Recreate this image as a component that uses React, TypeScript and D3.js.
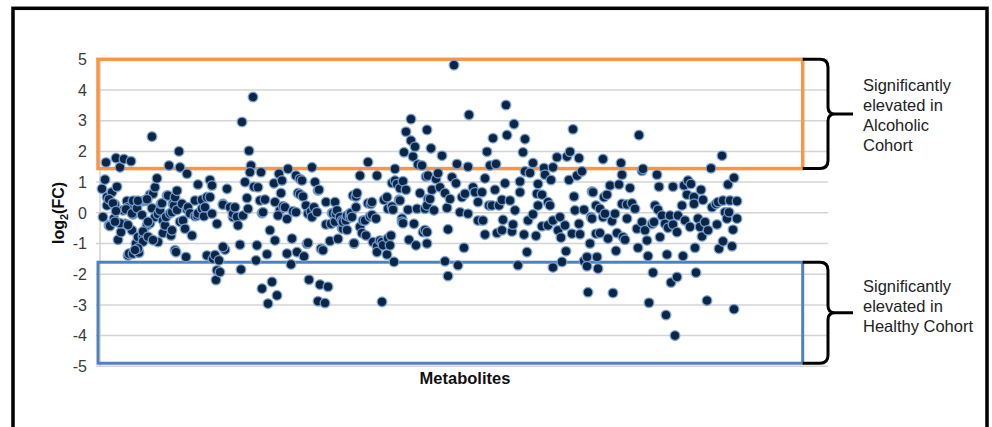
import React from "react";
import * as d3 from "d3";

// Metabolite order index and log2(FC) values
const points: [number, number][] = [
  [2,0.78],[3,-0.14],[5,1.08],[6,1.64],[7,0.51],[7,0.24],[9,-0.41],[10,-0.43],[12,0.67],[14,-0.19],[15,0.27],[16,1.78],[17,0.85],[18,-0.88],[20,1.48],[21,-0.63],[23,0.08],[24,1.75],[25,-0.36],[27,0.38],[28,0.18],[28,-1.39],[29,-1.33],[31,1.68],[32,-0.57],[33,-0.05],[33,-1.33],[35,0.38],[36,-1.0],[38,-0.79],[38,-1.28],[39,-1.3],[43,0.38],[43,-0.77],[45,0.4],[47,0.4],[47,-0.41],[50,0.59],[50,-0.34],[52,2.48],[53,0.62],[55,0.83],[55,-0.14],[57,1.12],[58,-0.95],
  [9,0.44],[13,0.31],[16,0.06],[20,-0.34],[15,-0.29],[26,0.11],[28,-0.4],[32,-0.02],[33,0.39],[37,0.15],[38,0.39],[42,-0.07],[43,-0.61],[43,-0.94],[38,-1.16],[35,-1.21],[47,0.44],[48,-0.29],[48,-0.78],[52,0.15],[53,-0.89],[58,-0.04],
  [60,0.08],[61,0.29],[62,0.31],[63,-0.66],[63,-0.25],[65,-0.41],[66,-0.14],[67,0.56],[68,0.56],[69,1.54],[70,-0.02],[71,-0.74],[72,-0.57],[72,0.02],[73,0.29],[74,0.24],[75,0.51],[75,-1.22],[76,-1.28],[77,0.72],[77,0.09],[79,2.0],[80,1.48],[80,-0.29],[82,0.29],[83,-0.25],[85,-0.52],[86,-1.44],[87,1.27],[87,0.11],[88,0.18],[90,-0.02],[92,-0.74],[95,0.4],[95,-0.11],[97,-0.09],[98,0.92],[98,-0.02],[102,0.13],[102,0.42],[104,-0.11],[105,0.18],[107,0.51],[107,-1.39],[110,1.07],[110,0.51],[112,0.89],[112,-0.03],[113,-1.5],[116,-2.19],[117,-0.36],[115,-1.38],[119,-1.55],[117,-1.87],[120,-1.93],
  [123,0.29],[123,0.26],[125,-1.2],[127,0.78],[123,-1.11],[130,0.18],[133,-0.14],[133,-0.03],[135,0.18],[137,-0.14],[138,-0.41],[140,-1.04],[141,-1.85],[142,2.96],[143,-0.09],[145,1.0],[147,0.48],[148,0.13],[149,2.02],[151,1.54],[150,1.32],[153,3.77],[154,0.85],[156,-1.55],[157,-1.06],[158,0.83],[160,0.4],[161,1.32],[162,-0.01],[162,-2.47],[163,0.02],[165,0.43],[168,-2.96],[170,-0.57],[167,-1.35],[172,-2.25],[174,0.96],[175,0.35],[175,-0.9],[177,-2.69],[179,1.27],[180,0.08],
  [181,0.64],[182,1.05],[178,-0.09],[183,0.21],[185,0.18],[187,-0.2],[187,-1.33],[188,1.43],[191,-1.68],[192,-0.84],[193,0.05],[196,0.02],[197,-1.28],[196,1.21],[198,0.64],[200,1.1],[200,0.6],[202,1.05],[203,0.53],[204,-1.42],[206,0.24],[207,-1.01],[208,-0.98],[208,-0.03],[209,-2.18],[211,0.04],[212,1.48],[212,-0.14],[214,0.18],[215,1.0],[217,0.02],[218,0.73],[218,-2.88],[219,0.75],[220,-2.34],[221,-1.17],[223,-1.22],[225,-2.94],[226,0.35],[226,-0.38],[228,-2.41],[230,-0.92],[231,-0.36],[232,-0.01],[233,-0.02],[235,0.35],[235,-0.29],[236,-0.03],[237,0.08],[238,-0.85],[240,-0.14],
  [242,-0.25],[242,-0.5],[243,-0.52],[243,-0.29],[246,-0.25],[247,-0.09],[247,-0.56],[250,-0.14],[250,-0.02],[251,-0.01],[252,-0.14],[253,0.56],[254,-1.0],[254,-0.99],[256,0.53],[256,0.18],[257,0.64],[260,1.21],[260,-0.46],[262,-0.66],[263,-0.25],[265,-0.25],[266,-0.74],[268,1.65],[268,0.31],[270,-0.12],[271,0.29],[272,0.35],[272,-0.07],[273,-0.95],[276,-0.19],[277,1.21],[277,-1.09],[277,-1.28],[280,-0.9],[282,-0.95],[282,-2.9],[283,-1.06],[284,0.42],[287,0.51],[287,-1.36],[288,0.13],[288,-0.83],[290,-1.06],[291,-0.74],[292,0.97],[292,0.2],[293,0.1],[294,-1.6],[295,1.43],[295,1.05],[297,0.94],[299,0.42],[300,0.4],[300,0.8],
  [302,-0.19],[302,-0.29],[303,1.03],[303,-0.34],[304,1.97],[306,2.64],[306,0.75],[308,0.1],[309,-0.88],[311,3.05],[311,2.35],[313,1.83],[314,-0.36],[315,2.15],[316,-1.06],[317,0.13],[318,1.57],[320,0.64],[322,1.54],[323,-0.63],[325,0.13],[325,-0.56],[326,1.18],[327,2.7],[327,-1.0],[328,0.45],[327,0.24],[327,-0.63],[328,1.21],[330,0.45],[331,2.1],[332,0.75],[334,0.08],[336,1.1],[338,1.29],[340,0.83],[342,1.86],[345,0.64],[345,-1.58],[347,0.16],[348,-0.54],[348,-2.06],[350,0.45],[352,1.16],[354,4.81],[356,0.96],[357,1.59],[358,-1.71],[360,0.02],
  [362,0.51],[364,-1.14],[365,0.62],[368,1.5],[368,-0.03],[369,3.19],[373,0.83],[375,0.67],[378,0.35],[378,-0.25],[382,0.67],[383,-0.25],[385,1.12],[385,-0.71],[387,1.99],[389,0.24],[390,1.54],[392,0.24],[393,2.43],[395,0.75],[396,1.59],[397,-0.66],[399,0.24],[402,0.42],[402,-0.57],[403,-0.23],[405,0.96],[406,3.51],[407,2.53],[410,0.4],[412,-0.61],[413,-0.38],[414,2.89],[415,0.08],[418,-1.71],[420,1.02],[420,0.67],
  [423,1.97],[424,-0.71],[425,2.4],[425,1.35],[427,-1.28],[428,-0.25],[430,1.3],[433,1.62],[433,-0.05],[436,-0.75],[437,0.62],[438,0.94],[438,0.24],[442,0.59],[442,-0.44],[444,1.46],[445,1.24],[448,0.35],[448,-0.41],[450,0.24],[451,1.07],[453,1.48],[453,-0.25],[453,-1.78],[457,1.81],[458,-0.57],[460,-0.14],[461,-0.81],[462,-1.6],[465,-0.41],[466,-1.25],[467,1.83],[469,1.07],[470,1.99],[472,-0.68],[473,2.72],[474,0.53],[475,0.08],[477,1.21],[479,1.78],[479,-0.36],[480,-0.7],[482,1.35],[484,0.1],[484,-1.57],[487,-1.44],[487,-1.74],[488,-2.59],[490,-1.0],[491,-0.14],[492,0.69],[492,-0.19],[493,0.67],[496,-0.68],[496,0.24],[497,-1.44],
  [498,-1.82],[500,0.13],[500,-0.66],[503,-0.14],[503,1.75],[504,0.51],[505,-0.03],[507,0.59],[508,-0.84],[510,0.89],[512,-0.27],[513,-2.61],[515,-0.03],[516,-1.24],[517,-0.66],[519,0.92],[521,1.62],[522,0.29],[522,1.24],[523,-0.79],[525,-0.88],[527,-0.19],[527,0.27],[530,0.81],[532,0.31],[535,0.13],[537,-0.52],[538,-1.14],[539,2.53],[542,1.37],[542,-0.3],[543,1.43],[545,-0.57],[547,-0.9],[548,-1.41],[549,-2.93],[552,-0.36],[553,-1.95],[554,-0.3],[555,0.24],[557,1.24],[558,0.1],[559,0.85],
  [560,-0.79],[562,-0.09],[565,-0.36],[566,-3.33],[567,-1.36],[568,-0.49],[570,-0.09],[571,-2.27],[573,0.85],[573,-0.38],[575,-4.0],[577,-0.63],[577,-2.09],[578,-0.09],[582,0.24],[583,-1.41],[584,0.89],[585,-0.25],[587,0.59],[588,1.05],[590,-0.46],[591,0.94],[594,0.51],[594,0.29],[595,-1.14],[596,-1.95],[598,-0.19],[600,-0.46],[601,0.75],[602,-0.77],[603,0.42],[605,-0.3],[607,-2.86],[608,-0.57],[611,1.45],[612,0.18],[616,0.29],[617,-0.38],[618,0.35],[619,-1.17],[622,1.86],[623,0.4],[623,-0.93],[625,0.02],[627,-0.19],[628,0.92],[629,0.02],[630,0.4],[632,-1.09],[633,-0.55],[634,1.14],[634,-3.14],[637,-0.19],[637,0.38],
];

const yTicks = [5, 4, 3, 2, 1, 0, -1, -2, -3, -4, -5];
const alcoholicRange = [1.44, 5];
const healthyRange = [-4.9, -1.61];
const alcoholicLabel = ["Significantly", "elevated in", "Alcoholic", "Cohort"];
const healthyLabel = ["Significantly", "elevated in", "Healthy Cohort"];

const W = 992;
const H = 427;
const FONT = "'Liberation Sans', Arial, sans-serif";

export default function App() {
  const x = d3.scaleLinear().domain([0, 728]).range([100, 828]);
  const y = d3.scaleLinear().domain([-5, 5]).range([366.3, 59.3]);
  const boxLeft = 98;
  const boxRight = 802.7;
  const braceX = 828;
  const braceTip = 853;

  const bracePath = (top: number, bottom: number) => {
    const mid = (top + bottom) / 2;
    return `M ${boxRight} ${top} L ${braceX - 8} ${top} Q ${braceX} ${top} ${braceX} ${top + 8} L ${braceX} ${mid - 7} Q ${braceX} ${mid} ${braceX + 7} ${mid} L ${braceTip} ${mid} M ${braceX + 7} ${mid} Q ${braceX} ${mid} ${braceX} ${mid + 7} L ${braceX} ${bottom - 8} Q ${braceX} ${bottom} ${braceX - 8} ${bottom} L ${boxRight} ${bottom}`;
  };

  const aTop = y(alcoholicRange[1]);
  const aBot = y(alcoholicRange[0]);
  const hTop = y(healthyRange[1]);
  const hBot = y(healthyRange[0]);

  return (
    <svg
      width={W}
      height={H}
      style={{ position: "absolute", left: 0, top: 0, background: "#fff" }}
      fontFamily={FONT}
    >
      <rect x={0} y={0} width={W} height={H} fill="#fff" />
      <rect x={13} y={8.3} width={974} height={440} fill="none" stroke="#000" strokeWidth={3.5} />

      {/* gridlines */}
      {yTicks.map((t) => (
        <line key={"g" + t} x1={96} x2={828} y1={y(t)} y2={y(t)} stroke="#d4d4d4" strokeWidth={1.5} />
      ))}
      <line x1={100} x2={100} y1={y(5)} y2={y(-5)} stroke="#c8c8c8" strokeWidth={1.2} />

      {/* tick labels */}
      {yTicks.map((t) => (
        <text
          key={"t" + t}
          x={87}
          y={y(t)}
          dy="0.36em"
          textAnchor="end"
          fontSize={16}
          fill="#3a3a3a"
        >
          {t}
        </text>
      ))}

      {/* axis titles */}
      <text
        transform={`translate(64, 213) rotate(-90)`}
        textAnchor="middle"
        fontSize={16}
        fontWeight="bold"
        fill="#111"
      >
        log<tspan fontSize={11} dy={4}>2</tspan>
        <tspan dy={-4}>(FC)</tspan>
      </text>
      <text x={465} y={384} textAnchor="middle" fontSize={16.5} fontWeight="bold" fill="#111">
        Metabolites
      </text>

      {/* region boxes */}
      <rect
        x={boxLeft}
        y={aTop}
        width={boxRight - boxLeft}
        height={aBot - aTop}
        fill="none"
        stroke="#f79646"
        strokeWidth={3.5}
      />
      <rect
        x={boxLeft}
        y={hTop}
        width={boxRight - boxLeft}
        height={hBot - hTop}
        fill="none"
        stroke="#4f81bd"
        strokeWidth={3}
      />

      {/* points */}
      {points.map(([i, v], k) => (
        <circle
          key={k}
          cx={x(i)}
          cy={y(v)}
          r={4.8}
          fill="#0c2545"
          stroke="#7aa3d6"
          strokeOpacity={0.85}
          strokeWidth={1.5}
        />
      ))}

      {/* braces */}
      <path d={bracePath(aTop, aBot)} fill="none" stroke="#000" strokeWidth={3} />
      <path d={bracePath(hTop, hBot)} fill="none" stroke="#000" strokeWidth={3} />

      {alcoholicLabel.map((s, k) => (
        <text key={"a" + k} x={863} y={91 + k * 20} fontSize={16.5} fill="#222">
          {s}
        </text>
      ))}
      {healthyLabel.map((s, k) => (
        <text key={"h" + k} x={863} y={292 + k * 20} fontSize={16.5} fill="#222">
          {s}
        </text>
      ))}
    </svg>
  );
}
